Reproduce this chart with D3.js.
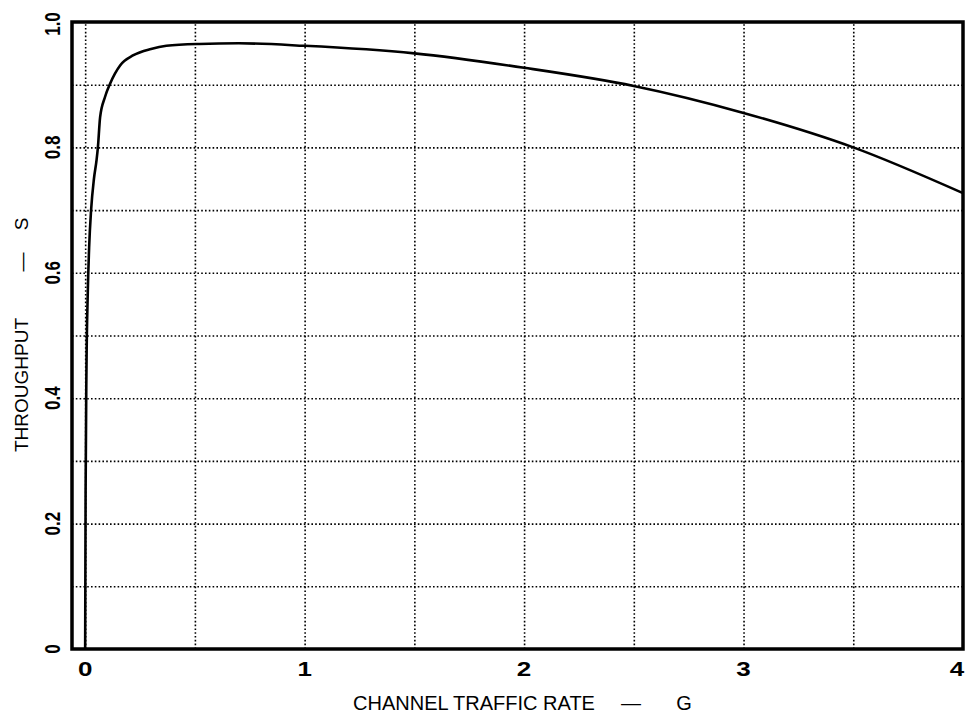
<!DOCTYPE html>
<html lang="en">

<head>
    <meta charset="utf-8">
    <title>throughput vs traffic</title>
    <script src="https://cdn.jsdelivr.net/npm/d3@7/dist/d3.min.js"></script>
    <style>
        body { margin: 0; background: #fff; }
        .grid line { stroke: #000; stroke-width: 1.6; stroke-dasharray: 1.6, 2.2; }
        .grid path { display: none; }
    </style>
</head>

<body>
    <script>
        // curve
        var trafficG = [0, 0.002, 0.006, 0.012, 0.018, 0.027, 0.04, 0.052, 0.058, 0.068, 0.09, 0.114,
            0.16, 0.22, 0.30, 0.37, 0.52, 0.7, 1.0, 1.5, 2.0, 2.5, 3.0, 3.5, 4.0];
        var throughputS = [0, 0.25, 0.45, 0.57, 0.64, 0.70, 0.75, 0.78, 0.80, 0.848, 0.88, 0.902,
            0.931, 0.947, 0.957, 0.962, 0.965, 0.966, 0.962, 0.95, 0.927, 0.898, 0.855, 0.80, 0.727];

        var xGrid = [0, 0.5, 1, 1.5, 2, 2.5, 3, 3.5];
        var yGrid = [0.1, 0.2, 0.3, 0.4, 0.5, 0.6, 0.7, 0.8, 0.9];
        var xTicks = [0, 1, 2, 3, 4];
        var yTicks = [0, 0.2, 0.4, 0.6, 0.8, 1.0];
        var yTickText = ['0', '0.2', '0.4', '0.6', '0.8', '1.0'];

        var W = 966, H = 716;
        var padL = 72, padR = 963, padT = 22, padB = 649;

        var svg = d3.select('body').append('svg')
            .attr('width', W).attr('height', H);

        var x = d3.scaleLinear().domain([-0.06, 4]).range([padL, padR]);
        var y = d3.scaleLinear().domain([0, 1]).range([padB, padT]);

        // dotted grid
        svg.append('g').attr('class', 'grid')
            .attr('transform', `translate(0, ${padB})`)
            .call(d3.axisBottom(x).tickValues(xGrid).tickSize(-(padB - padT)).tickFormat(''));
        svg.append('g').attr('class', 'grid')
            .attr('transform', `translate(${padL}, 0)`)
            .call(d3.axisLeft(y).tickValues(yGrid).tickSize(-(padR - padL)).tickFormat(''));

        // frame
        svg.append('rect')
            .attr('x', padL).attr('y', padT)
            .attr('width', padR - padL).attr('height', padB - padT)
            .attr('fill', 'none').attr('stroke', '#000').attr('stroke-width', 3.5);

        // curve
        var line = d3.line()
            .x(function (d, i) { return x(trafficG[i]); })
            .y(function (d, i) { return y(throughputS[i]); })
            .curve(d3.curveMonotoneX);
        svg.append('path')
            .attr('d', line(trafficG))
            .attr('fill', 'none')
            .attr('stroke', '#000')
            .attr('stroke-width', 2.6);

        // x tick labels
        svg.append('g').selectAll('text')
            .data(xTicks)
            .enter().append('text')
            .attr('transform', function (d) { return `translate(${Math.min(x(d), 957)}, 676) scale(1.3, 1)`; })
            .attr('text-anchor', 'middle')
            .style('font-family', '"Liberation Sans", Arial, sans-serif')
            .style('font-weight', 'bold')
            .style('font-size', '20px')
            .text(function (d) { return d; });

        // y tick labels (rotated)
        svg.append('g').selectAll('text')
            .data(yTicks)
            .enter().append('text')
            .attr('transform', function (d) { return `translate(60, ${Math.max(y(d), 24)}) rotate(-90) scale(1, 1.25)`; })
            .attr('text-anchor', 'middle')
            .style('font-family', '"Liberation Sans", Arial, sans-serif')
            .style('font-weight', 'bold')
            .style('font-size', '17px')
            .text(function (d, i) { return yTickText[i]; });

        // axis titles
        var titleFont = '"Liberation Sans", Arial, sans-serif';
        svg.append('text').attr('x', 474).attr('y', 710)
            .attr('text-anchor', 'middle')
            .style('font-family', titleFont).style('font-size', '20px')
            .text('CHANNEL TRAFFIC RATE');
        svg.append('text').attr('x', 631).attr('y', 710)
            .attr('text-anchor', 'middle')
            .style('font-family', titleFont).style('font-size', '20px')
            .text('—');
        svg.append('text').attr('x', 684).attr('y', 710)
            .attr('text-anchor', 'middle')
            .style('font-family', titleFont).style('font-size', '20px')
            .text('G');

        var yTitle = svg.append('g').attr('transform', 'translate(28, 0)');
        yTitle.append('text').attr('transform', 'translate(0, 452) rotate(-90)')
            .attr('text-anchor', 'start')
            .style('font-family', titleFont).style('font-size', '19px')
            .text('THROUGHPUT');
        yTitle.append('text').attr('transform', 'translate(0, 262) rotate(-90)')
            .attr('text-anchor', 'middle')
            .style('font-family', titleFont).style('font-size', '19px')
            .text('—');
        yTitle.append('text').attr('transform', 'translate(0, 224) rotate(-90)')
            .attr('text-anchor', 'middle')
            .style('font-family', titleFont).style('font-size', '19px')
            .text('S');
    </script>
</body>

</html>
